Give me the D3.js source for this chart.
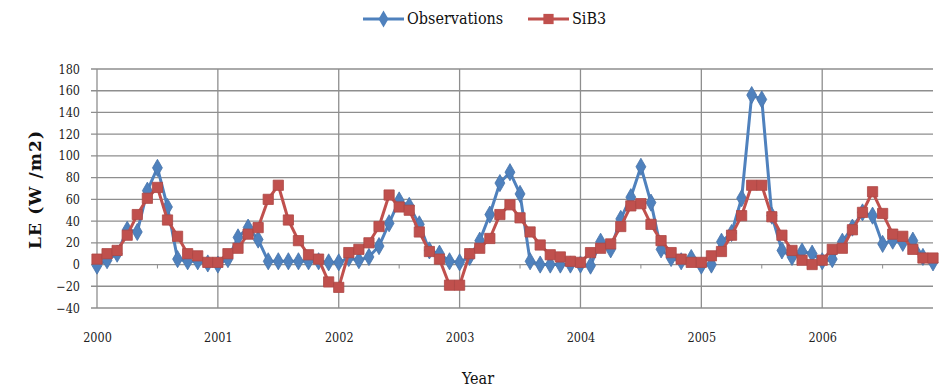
<!DOCTYPE html>
<html>
<head>
<meta charset="utf-8">
<script src="https://cdn.jsdelivr.net/npm/d3@7/dist/d3.min.js"></script>
<style>
  body { margin: 0; background: #fff; }
  svg { display: block; }
</style>
</head>
<body>
<svg id="chart" width="943" height="390"></svg>
<script>
// monthly values, Jan 2000 .. Dec 2006
const years = ['2000', '2001', '2002', '2003', '2004', '2005', '2006'];
const yTicks = [-40, -20, 0, 20, 40, 60, 80, 100, 120, 140, 160, 180];

const observations = [
  -1, 4, 10, 32, 30, 68, 89, 53, 5, 3, 3, 1,
  0, 5, 25, 34, 23, 3, 3, 3, 3, 3, 3, 2,
  2, 6, 4, 7, 17, 38, 59, 54, 37, 13, 10, 3,
  2, 7, 22, 46, 75, 85, 65, 3, 0, 0, 0, 0,
  0, -1, 21, 14, 42, 62, 90, 57, 14, 6, 3, 6,
  -1, 0, 21, 29, 61, 156, 152, 45, 13, 7, 12, 10,
  3, 5, 21, 34, 48, 45, 19, 22, 20, 22, 7, 2
];

const sib3 = [
  5, 10, 13, 27, 46, 61, 71, 41, 26, 10, 8, 2,
  2, 10, 15, 28, 34, 60, 73, 41, 22, 9, 5, -16,
  -21, 11, 14, 20, 35, 64, 53, 50, 30, 12, 5, -19,
  -19, 10, 15, 24, 46, 55, 43, 30, 18, 9, 7, 3,
  2, 11, 15, 19, 35, 54, 56, 37, 22, 11, 5, 2,
  2, 8, 12, 27, 45, 73, 73, 44, 27, 13, 4, 0,
  4, 14, 15, 32, 48, 67, 47, 28, 26, 14, 6, 6
];

const blue = '#4f81bd';
const red = '#c0504d';
const grid = '#8e8e8e';
const serif = '"DejaVu Serif Condensed", "DejaVu Serif", serif';

const svg = d3.select('#chart');
const margin = { top: 69, left: 97, right: 10, bottom: 82 };
const width = 943 - margin.left - margin.right;
const height = 390 - margin.top - margin.bottom;

const x = d3.scaleLinear().domain([0, observations.length - 1]).range([0, width]);
const y = d3.scaleLinear().domain([-40, 180]).range([height, 0]);

const g = svg.append('g').attr('transform', `translate(${margin.left},${margin.top})`);

// horizontal grid
g.append('g')
  .selectAll('line')
  .data(yTicks)
  .enter()
  .append('line')
  .attr('x1', -6)
  .attr('x2', width)
  .attr('y1', d => y(d))
  .attr('y2', d => y(d))
  .attr('stroke', grid)
  .attr('stroke-width', 1.3);

// vertical grid at each year
const yearIdx = years.map((d, i) => i * 12);
g.append('g')
  .selectAll('line')
  .data(yearIdx)
  .enter()
  .append('line')
  .attr('x1', d => x(d))
  .attr('x2', d => x(d))
  .attr('y1', 0)
  .attr('y2', height)
  .attr('stroke', grid)
  .attr('stroke-width', 1.3);

// mid-year ticks on the zero line
g.append('g')
  .selectAll('line')
  .data(yearIdx.map(d => d + 6))
  .enter()
  .append('line')
  .attr('x1', d => x(d))
  .attr('x2', d => x(d))
  .attr('y1', y(0))
  .attr('y2', y(0) + 4)
  .attr('stroke', grid)
  .attr('stroke-width', 1);

// y axis labels
const yAxis = d3.axisLeft(y).tickValues(yTicks).tickSize(0).tickPadding(17);
const ya = g.append('g').call(yAxis);
ya.select('.domain').remove();
ya.selectAll('text')
  .attr('font-family', serif)
  .attr('font-size', '12.5px')
  .attr('fill', '#222');

// x axis labels
const xAxis = d3.axisBottom(x).tickValues(yearIdx).tickFormat((d, i) => years[i]).tickSize(0).tickPadding(25);
const xa = g.append('g').attr('transform', `translate(0,${height})`).call(xAxis);
xa.select('.domain').remove();
xa.selectAll('text')
  .attr('font-family', serif)
  .attr('font-size', '12.5px')
  .attr('fill', '#222');

const lineGenerator = d3.line()
  .x((d, i) => x(i))
  .y(d => y(d));

const diamond = d3.symbol().type(d3.symbolDiamond).size(85);
const square = d3.symbol().type(d3.symbolSquare).size(105);

function drawSeries(data, color, symbol) {
  g.append('path')
    .attr('d', lineGenerator(data))
    .attr('fill', 'none')
    .attr('stroke', color)
    .attr('stroke-width', 3)
    .attr('stroke-linejoin', 'round');
  g.append('g')
    .selectAll('path')
    .data(data)
    .enter()
    .append('path')
    .attr('d', symbol)
    .attr('transform', (d, i) => `translate(${x(i)},${y(d)})`)
    .attr('fill', color)
    .attr('stroke', d3.color(color).darker(0.3))
    .attr('stroke-width', 0.8);
}

drawSeries(observations, blue, diamond);
drawSeries(sib3, red, square);

// axis titles
svg.append('text')
  .text('LE  (W /m2)')
  .attr('transform', 'translate(41,190) rotate(-90)')
  .attr('text-anchor', 'middle')
  .attr('font-family', '"DejaVu Serif", serif')
  .attr('font-weight', 'bold')
  .attr('font-size', '17px')
  .attr('textLength', 118)
  .attr('lengthAdjust', 'spacing')
  .attr('fill', '#111');

svg.append('text')
  .text('Year')
  .attr('x', 478)
  .attr('y', 384)
  .attr('text-anchor', 'middle')
  .attr('font-family', serif)
  .attr('font-size', '16px')
  .attr('fill', '#111');

// legend
const legend = [
  { name: 'Observations', color: blue, symbol: diamond, x: 363 },
  { name: 'SiB3', color: red, symbol: square, x: 528 }
];
const lg = svg.append('g');
legend.forEach(l => {
  lg.append('line')
    .attr('x1', l.x).attr('x2', l.x + 41)
    .attr('y1', 19).attr('y2', 19)
    .attr('stroke', l.color)
    .attr('stroke-width', 3);
  lg.append('path')
    .attr('d', l.symbol)
    .attr('transform', `translate(${l.x + 20.5},19)`)
    .attr('fill', l.color);
  lg.append('text')
    .text(l.name)
    .attr('x', l.x + 44)
    .attr('y', 24)
    .attr('font-family', serif)
    .attr('font-size', '16px')
    .attr('fill', '#111');
});
</script>
</body>
</html>
